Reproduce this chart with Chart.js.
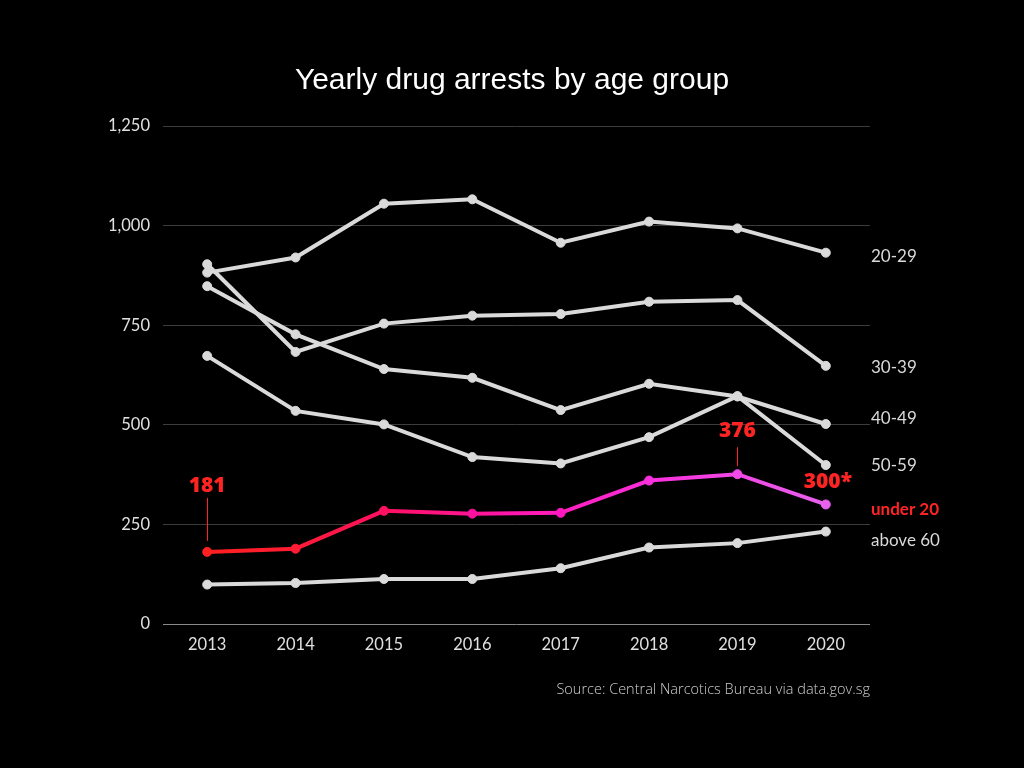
<!DOCTYPE html>
<html>
<head>
<meta charset="utf-8">
<script src="https://cdn.jsdelivr.net/npm/chart.js@4/dist/chart.umd.min.js"></script>
<style>
  html, body { margin: 0; padding: 0; background: #000; }
  #wrap { width: 1024px; height: 768px; }
</style>
</head>
<body>
<div id="wrap"><canvas id="c" width="1024" height="768"></canvas></div>
<script>
const years = ['2013', '2014', '2015', '2016', '2017', '2018', '2019', '2020'];
const age20to29 = [882, 920, 1055, 1066, 957, 1010, 993, 932];
const age30to39 = [903, 683, 754, 774, 778, 809, 813, 648];
const age40to49 = [848, 727, 640, 618, 537, 603, 571, 502];
const age50to59 = [673, 535, 501, 419, 403, 469, 572, 399];
const under20 = [181, 189, 284, 277, 279, 360, 376, 300];
const above60 = [99, 103, 113, 113, 140, 192, 203, 232];
const yTicks = [0, 250, 500, 750, 1000, 1250];
const seriesNames = ['20-29', '30-39', '40-49', '50-59', 'under 20', 'above 60'];
const callouts = [
  { index: 0, text: '181' },
  { index: 6, text: '376' },
  { index: 7, text: '300*' }
];
const titleText = 'Yearly drug arrests by age group';
const sourceText = 'Source: Central Narcotics Bureau via data.gov.sg';

const GRAY = '#dadada';
const RED = '#ff2424';
const under20PointColors = ['#ff2020', '#ff1c34', '#ff1060', '#ff12a0', '#ff18c0', '#fa30dc', '#f24ae8', '#e860ee'];

function under20Gradient(ctx) {
  const chart = ctx.chart;
  const area = chart.chartArea;
  if (!area) return RED;
  const x = chart.scales.x;
  const g = chart.ctx.createLinearGradient(x.getPixelForValue(0), 0, x.getPixelForValue(7), 0);
  g.addColorStop(0, '#ff2020');
  g.addColorStop(0.14, '#ff1c34');
  g.addColorStop(0.28, '#ff1060');
  g.addColorStop(0.5, '#ff16b0');
  g.addColorStop(0.72, '#fa30dc');
  g.addColorStop(1, '#e860ee');
  return g;
}

function grayDs(label, data, dy) {
  return {
    label, data, endDy: dy,
    borderColor: GRAY, backgroundColor: GRAY,
    pointBackgroundColor: GRAY, pointBorderColor: GRAY,
    borderWidth: 4, pointRadius: 4.5, pointBorderWidth: 1, pointHoverRadius: 4.5, tension: 0
  };
}

const datasets = [
  grayDs(seriesNames[0], age20to29, 4),
  grayDs(seriesNames[1], age30to39, 2),
  grayDs(seriesNames[2], age40to49, -5),
  grayDs(seriesNames[3], age50to59, 0),
  grayDs(seriesNames[5], above60, 9),
  {
    label: seriesNames[4], data: under20, endDy: 5, endBold: true, endColor: RED,
    borderColor: under20Gradient,
    pointBackgroundColor: under20PointColors, pointBorderColor: under20PointColors,
    borderWidth: 4, pointRadius: 4.5, pointBorderWidth: 1, pointHoverRadius: 4.5, tension: 0
  }
];

const annotationsPlugin = {
  id: 'annotations',
  afterDatasetsDraw(chart) {
    const ctx = chart.ctx;
    const area = chart.chartArea;
    const ys = chart.scales.y;
    ctx.save();
    // title
    ctx.font = '30px "Liberation Sans", Arial, sans-serif';
    ctx.fillStyle = '#ffffff';
    ctx.textAlign = 'center';
    ctx.textBaseline = 'middle';
    ctx.fillText(titleText, chart.width / 2, 81);
    // end labels
    chart.data.datasets.forEach(ds => {
      const last = ds.data[ds.data.length - 1];
      const y = ys.getPixelForValue(last) + ds.endDy;
      ctx.font = (ds.endBold ? 'bold ' : '') + '17px Lato';
      ctx.fillStyle = ds.endColor || GRAY;
      ctx.textAlign = 'left';
      ctx.textBaseline = 'middle';
      ctx.fillText(ds.label, area.right + 1, y);
    });
    // callouts on under 20
    const meta = chart.getDatasetMeta(5);
    const cfg = [
      { dy: -66, line: [-54, -11], dx: 0 },
      { dy: -43, line: [-27, -8], dx: 0 },
      { dy: -22, line: null, dx: 2 }
    ];
    callouts.forEach((c, i) => {
      const pt = meta.data[c.index];
      const s = cfg[i];
      ctx.fillStyle = RED;
      ctx.font = '800 21px "Open Sans"';
      ctx.textAlign = 'center';
      ctx.textBaseline = 'middle';
      ctx.fillText(c.text, pt.x + s.dx, pt.y + s.dy);
      if (s.line) {
        ctx.strokeStyle = RED;
        ctx.lineWidth = 1;
        ctx.beginPath();
        ctx.moveTo(Math.round(pt.x) + 0.5, pt.y + s.line[0]);
        ctx.lineTo(Math.round(pt.x) + 0.5, pt.y + s.line[1]);
        ctx.stroke();
      }
    });
    // source
    ctx.font = '300 14.5px "Open Sans"';
    ctx.fillStyle = '#cfcfcf';
    ctx.textAlign = 'right';
    ctx.textBaseline = 'middle';
    ctx.fillText(sourceText, area.right, 690);
    ctx.restore();
  }
};

const bgPlugin = {
  id: 'bg',
  beforeDraw(chart) {
    const ctx = chart.ctx;
    ctx.save();
    ctx.fillStyle = '#000';
    ctx.fillRect(0, 0, chart.width, chart.height);
    ctx.restore();
  }
};

new Chart(document.getElementById('c'), {
  type: 'line',
  data: { labels: years, datasets },
  plugins: [bgPlugin, annotationsPlugin],
  options: {
    responsive: false,
    animation: false,
    layout: { padding: { left: 90, right: 154, top: 126, bottom: 104 } },
    plugins: {
      legend: { display: false },
      tooltip: { enabled: false },
      title: { display: false }
    },
    scales: {
      x: {
        offset: true,
        grid: { display: false, drawTicks: false },
        border: { display: false },
        ticks: { color: '#e0e0e0', font: { family: 'Lato', size: 16.5 }, padding: 11 },
        afterFit(scale) { scale.height = 40; }
      },
      y: {
        min: 0, max: 1250,
        afterBuildTicks(scale) { scale.ticks = yTicks.map(v => ({ value: v })); },
        grid: {
          drawTicks: false,
          color: ctx => (ctx.tick && ctx.tick.value === 0 ? '#8a8a8a' : '#3c3c3c'),
          lineWidth: 1
        },
        border: { display: false },
        ticks: {
          color: '#e0e0e0', font: { family: 'Lato', size: 16.5 }, padding: 13,
          callback: v => v.toLocaleString('en-US')
        },
        afterFit(scale) { scale.width = 73; }
      }
    }
  }
});
</script>
</body>
</html>
